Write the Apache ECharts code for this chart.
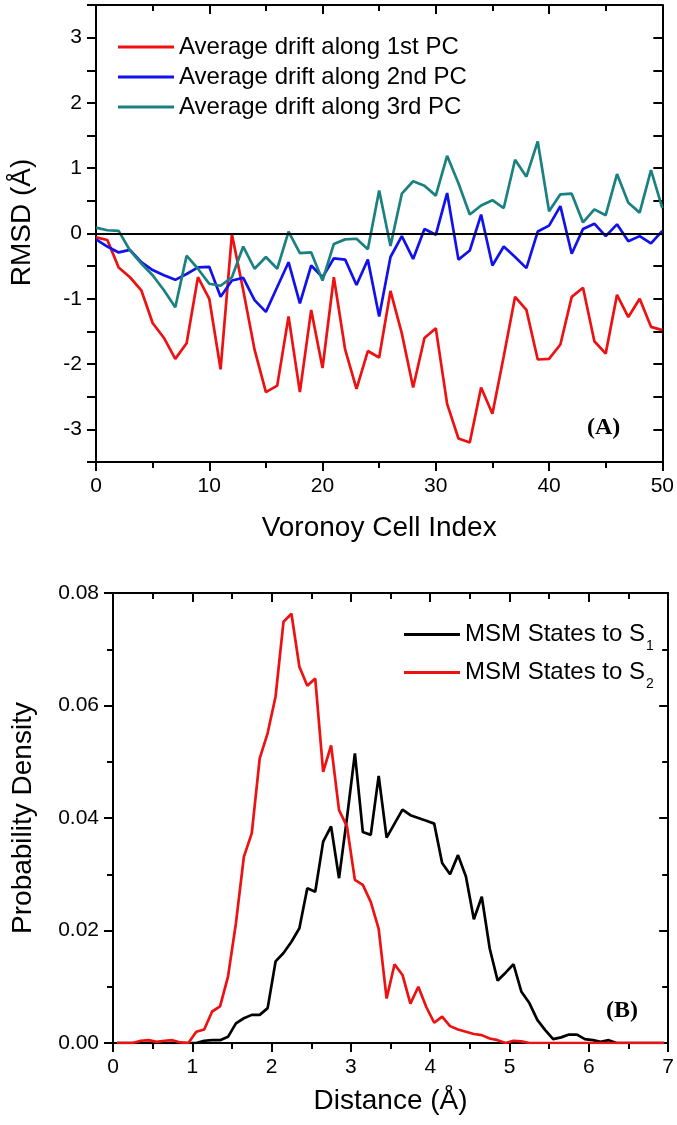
<!DOCTYPE html>
<html>
<head>
<meta charset="utf-8">
<script src="https://cdn.jsdelivr.net/npm/echarts@6/dist/echarts.min.js"></script>
<style>
html,body{margin:0;padding:0;background:#fff;}
#chart{width:677px;height:1125px;}
</style>
</head>
<body>
<div id="chart"></div>
<script>
// ---------- Panel A data ----------
const cellIndex = [0,1,2,3,4,5,6,7,8,9,10,11,12,13,14,15,16,17,18,19,20,21,22,23,24,25,26,27,28,29,30,31,32,33,34,35,36,37,38,39,40,41,42,43,44,45,46,47,48,49,50];
const drift1 = [-0.06,-0.1,-0.52,-0.67,-0.87,-1.37,-1.6,-1.92,-1.68,-0.67,
  -1.0,-2.08,-0.01,-0.87,-1.78,-2.43,-2.33,-1.27,-2.43,-1.17,
  -2.06,-0.67,-1.78,-2.38,-1.8,-1.9,-0.88,-1.53,-2.36,-1.6,
  -1.45,-2.61,-3.14,-3.2,-2.36,-2.76,-1.88,-0.97,-1.17,-1.93,
  -1.92,-1.7,-0.97,-0.83,-1.65,-1.84,-0.94,-1.28,-1.0,-1.43,-1.48];
const drift2 = [-0.09,-0.2,-0.29,-0.25,-0.44,-0.56,-0.64,-0.71,-0.62,-0.52,
  -0.51,-0.97,-0.72,-0.68,-1.02,-1.2,-0.82,-0.44,-1.07,-0.49,
  -0.67,-0.38,-0.4,-0.79,-0.4,-1.27,-0.36,-0.04,-0.39,0.07,
  -0.02,0.62,-0.4,-0.26,0.29,-0.49,-0.2,-0.36,-0.53,0.03,
  0.12,0.42,-0.31,0.07,0.15,-0.04,0.14,-0.12,-0.04,-0.15,0.04];
const drift3 = [0.09,0.05,0.04,-0.26,-0.46,-0.64,-0.87,-1.13,-0.34,-0.54,
  -0.77,-0.8,-0.67,-0.2,-0.54,-0.36,-0.54,0.03,-0.3,-0.29,
  -0.72,-0.16,-0.09,-0.08,-0.24,0.66,-0.19,0.61,0.8,0.73,
  0.58,1.19,0.77,0.29,0.43,0.51,0.39,1.13,0.87,1.41,
  0.34,0.6,0.61,0.17,0.37,0.28,0.91,0.47,0.32,0.97,0.39];
const namesA = ['Average drift along 1st PC','Average drift along 2nd PC','Average drift along 3rd PC'];

// ---------- Panel B data ----------
const distance = [0.05,0.15,0.25,0.35,0.45,0.55,0.65,0.75,0.85,0.95,
  1.05,1.15,1.25,1.35,1.45,1.55,1.65,1.75,1.85,1.95,
  2.05,2.15,2.25,2.35,2.45,2.55,2.65,2.75,2.85,2.95,
  3.05,3.15,3.25,3.35,3.45,3.55,3.65,3.75,3.85,3.95,
  4.05,4.15,4.25,4.35,4.45,4.55,4.65,4.75,4.85,4.95,
  5.05,5.15,5.25,5.35,5.45,5.55,5.65,5.75,5.85,5.95,
  6.05,6.15,6.25,6.35,6.45,6.55,6.65,6.75,6.85,6.95];
const densityS1 = [0,0,0,0,0,0,0,0,0,0,
  0,0.0004,0.0005,0.0005,0.0011,0.0035,0.0044,0.0050,0.0050,0.0062,
  0.0145,0.0160,0.0180,0.0204,0.0275,0.0269,0.0358,0.0385,0.0293,0.0400,
  0.0515,0.0375,0.0370,0.0475,0.0365,0.0390,0.0415,0.0405,0.0400,0.0395,
  0.0390,0.0320,0.0300,0.0334,0.0296,0.0220,0.0260,0.0168,0.0111,0.0125,
  0.0140,0.0091,0.0071,0.0041,0.0023,0.0007,0.0010,0.0015,0.0015,0.0007,
  0.0005,0.0002,0.0005,0,0,0,0,0,0,0];
const densityS2 = [0,0,0,0.0004,0.0005,0.0002,0.0004,0.0005,0.0001,0,
  0.0020,0.0024,0.0056,0.0065,0.0118,0.0213,0.0331,0.0373,0.0506,0.0551,
  0.0616,0.0749,0.0763,0.0669,0.0635,0.0648,0.0482,0.0529,0.0414,0.0385,
  0.0290,0.0281,0.0251,0.0203,0.0079,0.0140,0.0121,0.0070,0.0100,0.0064,
  0.0036,0.0047,0.0030,0.0024,0.0020,0.0016,0.0014,0.0008,0.0005,0,
  0.0004,0.0003,0,0,0,0,0,0,0,0,
  0,0,0,0,0,0,0,0,0,0];
const namesB = ['MSM States to S1','MSM States to S2'];

const FONT = 'Liberation Sans, Arial, sans-serif';
const pairs = (xs, ys) => xs.map((x, i) => [x, ys[i]]);

const axisLine = {show: true, onZero: false, lineStyle: {color: '#000', width: 2}};
const tickOut = {show: true, inside: false, length: 9, lineStyle: {color: '#000', width: 2}};
const tickIn = {show: true, inside: true, length: 9, lineStyle: {color: '#000', width: 2}};
const minorOut = {show: true, splitNumber: 2, length: 6, lineStyle: {color: '#000', width: 2}};
const labelStyle = {color: '#000', fontFamily: FONT, fontSize: 21};
const nameStyle = {color: '#000', fontFamily: FONT, fontSize: 28};

function lineSeries(name, xi, yi, data, color, extra) {
  return Object.assign({
    name: name, type: 'line', xAxisIndex: xi, yAxisIndex: yi,
    data: data, symbol: 'none', showSymbol: false,
    lineStyle: {color: color, width: 2.7}, itemStyle: {color: color},
    animation: false
  }, extra || {});
}

const chart = echarts.init(document.getElementById('chart'), null, {renderer: 'canvas'});
chart.setOption({
  backgroundColor: '#fff',
  animation: false,
  grid: [
    {left: 94, top: 5, width: 569, height: 457},
    {left: 113, top: 593, width: 556, height: 450}
  ],
  xAxis: [
    {type: 'value', gridIndex: 0, min: 0, max: 50, interval: 10,
     name: 'Voronoy Cell Index', nameLocation: 'middle', nameGap: 52, nameTextStyle: nameStyle,
     axisLine: axisLine, axisTick: tickOut, minorTick: minorOut, splitLine: {show: false},
     axisLabel: Object.assign({margin: 14}, labelStyle)},
    {type: 'value', gridIndex: 0, min: 0, max: 50, interval: 10, position: 'top',
     axisLine: axisLine, axisTick: tickIn, minorTick: Object.assign({}, minorOut), splitLine: {show: false},
     axisLabel: {show: false}},
    {type: 'value', gridIndex: 1, min: 0, max: 7, interval: 1,
     name: 'Distance (Å)', nameLocation: 'middle', nameGap: 44, nameTextStyle: nameStyle,
     axisLine: axisLine, axisTick: tickOut, minorTick: minorOut, splitLine: {show: false},
     axisLabel: Object.assign({margin: 14}, labelStyle)},
    {type: 'value', gridIndex: 1, min: 0, max: 7, interval: 1, position: 'top',
     axisLine: axisLine, axisTick: tickIn, minorTick: Object.assign({}, minorOut), splitLine: {show: false},
     axisLabel: {show: false}}
  ],
  yAxis: [
    {type: 'value', gridIndex: 0, min: -3.5, max: 3.5, interval: 0.5,
     name: 'RMSD (Å)', nameLocation: 'middle', nameGap: 60,
     nameTextStyle: Object.assign({}, nameStyle, {fontSize: 28, padding: [0, 0, 0, 22]}),
     axisLine: axisLine, axisTick: tickOut, splitLine: {show: false},
     axisLabel: Object.assign({margin: 14, formatter: function (v) {
       const r = Math.round(v * 100) / 100;
       return Number.isInteger(r) ? String(r) : '';
     }}, labelStyle)},
    {type: 'value', gridIndex: 0, min: -3.5, max: 3.5, interval: 0.5, position: 'right',
     axisLine: axisLine, axisTick: tickIn, splitLine: {show: false}, axisLabel: {show: false}},
    {type: 'value', gridIndex: 1, min: 0, max: 0.08, interval: 0.02,
     name: 'Probability Density', nameLocation: 'middle', nameGap: 76, nameTextStyle: nameStyle,
     axisLine: axisLine, axisTick: tickOut, minorTick: minorOut, splitLine: {show: false},
     axisLabel: Object.assign({margin: 14, formatter: function (v) { return v.toFixed(2); }}, labelStyle)},
    {type: 'value', gridIndex: 1, min: 0, max: 0.08, interval: 0.02, position: 'right',
     axisLine: axisLine, axisTick: tickIn, minorTick: Object.assign({}, minorOut), splitLine: {show: false},
     axisLabel: {show: false}}
  ],
  legend: [
    {data: namesA, orient: 'vertical', left: 113, top: 30, itemWidth: 56, itemHeight: 3, itemGap: 6,
     icon: 'rect', selectedMode: false,
     textStyle: {color: '#000', fontFamily: FONT, fontSize: 24, lineHeight: 24}},
    {data: namesB, orient: 'vertical', left: 399, top: 611, itemWidth: 56, itemHeight: 3, itemGap: 1,
     icon: 'rect', selectedMode: false,
     formatter: function (n) { return n.replace(/S(\d)$/, 'S{sub|$1}'); },
     textStyle: {color: '#000', fontFamily: FONT, fontSize: 24,
       rich: {sub: {fontFamily: FONT, fontSize: 14, color: '#000', lineHeight: 14, padding: [23, 0, 0, 1]}}}}
  ],
  graphic: [
    {type: 'text', left: 587, top: 416, style: {text: '(A)', fill: '#000', font: 'bold 24px "Liberation Serif", "Times New Roman", serif'}},
    {type: 'text', left: 606, top: 999, style: {text: '(B)', fill: '#000', font: 'bold 24px "Liberation Serif", "Times New Roman", serif'}}
  ],
  series: [
    lineSeries(namesA[0], 0, 0, pairs(cellIndex, drift1), '#ee1111', {
      markLine: {silent: true, symbol: 'none', label: {show: false},
        lineStyle: {color: '#000', width: 2, type: 'solid'}, data: [{yAxis: 0}], animation: false}
    }),
    lineSeries(namesA[1], 0, 0, pairs(cellIndex, drift2), '#1111ee'),
    lineSeries(namesA[2], 0, 0, pairs(cellIndex, drift3), '#1a8080'),
    lineSeries(namesB[0], 2, 2, pairs(distance, densityS1), '#000000'),
    lineSeries(namesB[1], 2, 2, pairs(distance, densityS2), '#ee1111')
  ]
});
</script>
</body>
</html>
